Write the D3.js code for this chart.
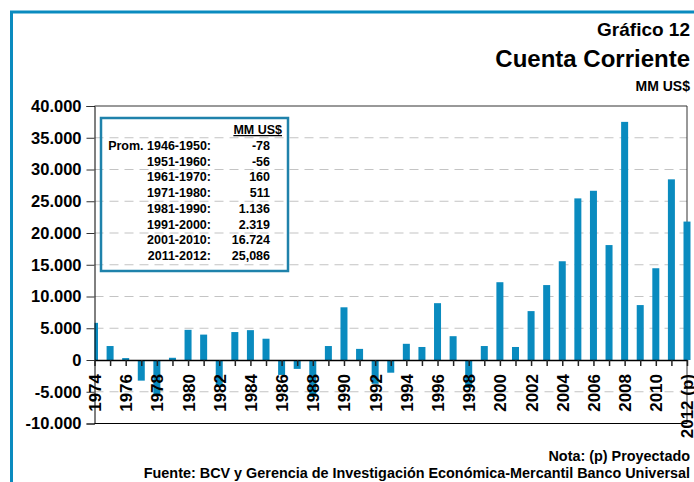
<!DOCTYPE html>
<html>
<head>
<meta charset="utf-8">
<script src="https://cdn.jsdelivr.net/npm/d3@7"></script>
<style>
  body { margin: 0; background: #fff; }
  svg text { font-family: Arial, "Liberation Sans", sans-serif; font-weight: bold; fill: #000; }
</style>
</head>
<body>
<div id="chart"></div>
<script>
// Data (MM US$)
const years = ["1974","1975","1976","1977","1978","1979","1980","1981","1982","1983",
  "1984","1985","1986","1987","1988","1989","1990","1991","1992","1993",
  "1994","1995","1996","1997","1998","1999","2000","2001","2002","2003",
  "2004","2005","2006","2007","2008","2009","2010","2011","2012"];
const values = [5850, 2200, 300, -3250, -5700, 350, 4750, 4000, -4200, 4400,
  4700, 3350, -2350, -1400, -5800, 2200, 8300, 1750, -3750, -2000,
  2550, 2050, 8950, 3750, -4400, 2200, 12250, 2050, 7700, 11800,
  15550, 25450, 26650, 18100, 37500, 8650, 14450, 28450, 21800];
const tickLabels = {"1974":"1974","1976":"1976","1978":"1978","1980":"1980","1982":"1982",
  "1984":"1984","1986":"1986","1988":"1988","1990":"1990","1992":"1992","1994":"1994",
  "1996":"1996","1998":"1998","2000":"2000","2002":"2002","2004":"2004","2006":"2006",
  "2008":"2008","2010":"2010","2012":"2012 (p)"};
const yTicks = [-10000, -5000, 0, 5000, 10000, 15000, 20000, 25000, 30000, 35000, 40000];

// Inset table
const periods = ["Prom. 1946-1950:", "1951-1960:", "1961-1970:", "1971-1980:",
  "1981-1990:", "1991-2000:", "2001-2010:", "2011-2012:"];
const averages = ["-78", "-56", "160", "511", "1.136", "2.319", "16.724", "25,086"];

const width = 694, height = 482;
const blue = "#0a8bbf";
const plotLeft = 94.5, plotRight = 687, plotTop = 106, plotBottom = 423.5;

const es = d3.formatLocale({decimal: ",", thousands: ".", grouping: [3], currency: ["", ""], minus: "-"});
const fmt = es.format(",");

const svg = d3.select("#chart").append("svg")
  .attr("width", width).attr("height", height);

// outer frame (top + left)
svg.append("path")
  .attr("d", `M11.5,${height} V12 H${width}`)
  .attr("fill", "none").attr("stroke", blue).attr("stroke-width", 3);

// Titles
svg.append("text").attr("x", 690).attr("y", 36).attr("text-anchor", "end")
  .style("font-size", "19px").text("Gráfico 12");
svg.append("text").attr("x", 690).attr("y", 67).attr("text-anchor", "end")
  .style("font-size", "24px").text("Cuenta Corriente");
svg.append("text").attr("x", 690).attr("y", 91).attr("text-anchor", "end")
  .style("font-size", "14px").text("MM US$");

const x = d3.scalePoint().domain(years).range([plotLeft, plotRight]);
const y = d3.scaleLinear().domain([-10000, 40000]).range([plotBottom, plotTop]);

// gridlines
svg.append("g").selectAll("line")
  .data(yTicks.filter(d => d > -10000 && d < 40000 && d !== 0))
  .join("line")
  .attr("x1", plotLeft).attr("x2", plotRight)
  .attr("y1", d => y(d)).attr("y2", d => y(d))
  .attr("stroke", "#c4c4c4").attr("stroke-width", 1.2)
  .attr("stroke-dasharray", "9,6");

// plot frame top/right
svg.append("path")
  .attr("d", `M${plotLeft},${y(40000)} H${plotRight} V${plotBottom}`)
  .attr("fill", "none").attr("stroke", "#333").attr("stroke-width", 1);

// bars
svg.append("clipPath").attr("id", "clip").append("rect")
  .attr("x", plotLeft).attr("y", 0).attr("width", width - plotLeft).attr("height", height);

const bw = 7;
svg.append("g").attr("clip-path", "url(#clip)")
  .selectAll("rect").data(years).join("rect")
  .attr("x", d => x(d) - bw / 2)
  .attr("width", bw)
  .attr("y", (d, i) => y(Math.max(0, values[i])))
  .attr("height", (d, i) => Math.abs(y(values[i]) - y(0)))
  .attr("fill", blue);

// y axis
const yAxis = svg.append("g").attr("transform", `translate(${plotLeft},0)`)
  .call(d3.axisLeft(y).tickValues(yTicks).tickFormat(fmt).tickSize(8).tickPadding(5));
yAxis.select(".domain").attr("stroke", "#000");
yAxis.selectAll(".tick line").attr("stroke", "#333");
yAxis.selectAll("text").style("font-size", "16.5px").attr("font-family", null);

// bottom line
svg.append("line").attr("x1", plotLeft).attr("x2", plotRight)
  .attr("y1", plotBottom).attr("y2", plotBottom).attr("stroke", "#000");

// zero axis with ticks and rotated labels
const xAxis = svg.append("g").attr("transform", `translate(0,${y(0)})`)
  .call(d3.axisBottom(x).tickSize(6).tickSizeOuter(0)
    .tickFormat(d => tickLabels[d] || ""));
xAxis.select(".domain").attr("stroke", "#000").attr("stroke-width", 1.5);
xAxis.selectAll(".tick line").attr("stroke", "#222").attr("stroke-width", 1.5);
xAxis.selectAll("text")
  .attr("font-family", null)
  .style("font-size", "17px")
  .attr("text-anchor", "end")
  .attr("transform", "rotate(-90)")
  .attr("x", -14).attr("y", 0).attr("dy", "0.35em");

// inset box
const box = svg.append("g");
box.append("rect").attr("x", 101).attr("y", 118).attr("width", 187).attr("height", 153)
  .attr("fill", "none").attr("stroke", "#1f82ab").attr("stroke-width", 2.5);
box.append("text").attr("x", 282).attr("y", 134).attr("text-anchor", "end")
  .style("font-size", "12.5px").attr("text-decoration", "underline").text("MM US$");
box.selectAll(".lab").data(periods).join("text")
  .attr("class", "lab")
  .attr("x", 211).attr("y", (d, i) => 150 + i * 15.7)
  .attr("text-anchor", "end").style("font-size", "12.5px").text(d => d);
box.selectAll(".val").data(averages).join("text")
  .attr("class", "val")
  .attr("x", 270).attr("y", (d, i) => 150 + i * 15.7)
  .attr("text-anchor", "end").style("font-size", "12.5px").text(d => d);

// footer
svg.append("text").attr("x", 690).attr("y", 461).attr("text-anchor", "end")
  .style("font-size", "14.4px").text("Nota: (p) Proyectado");
svg.append("text").attr("x", 690).attr("y", 478).attr("text-anchor", "end")
  .style("font-size", "14.4px").text("Fuente: BCV y Gerencia de Investigación Económica-Mercantil Banco Universal");
</script>
</body>
</html>
